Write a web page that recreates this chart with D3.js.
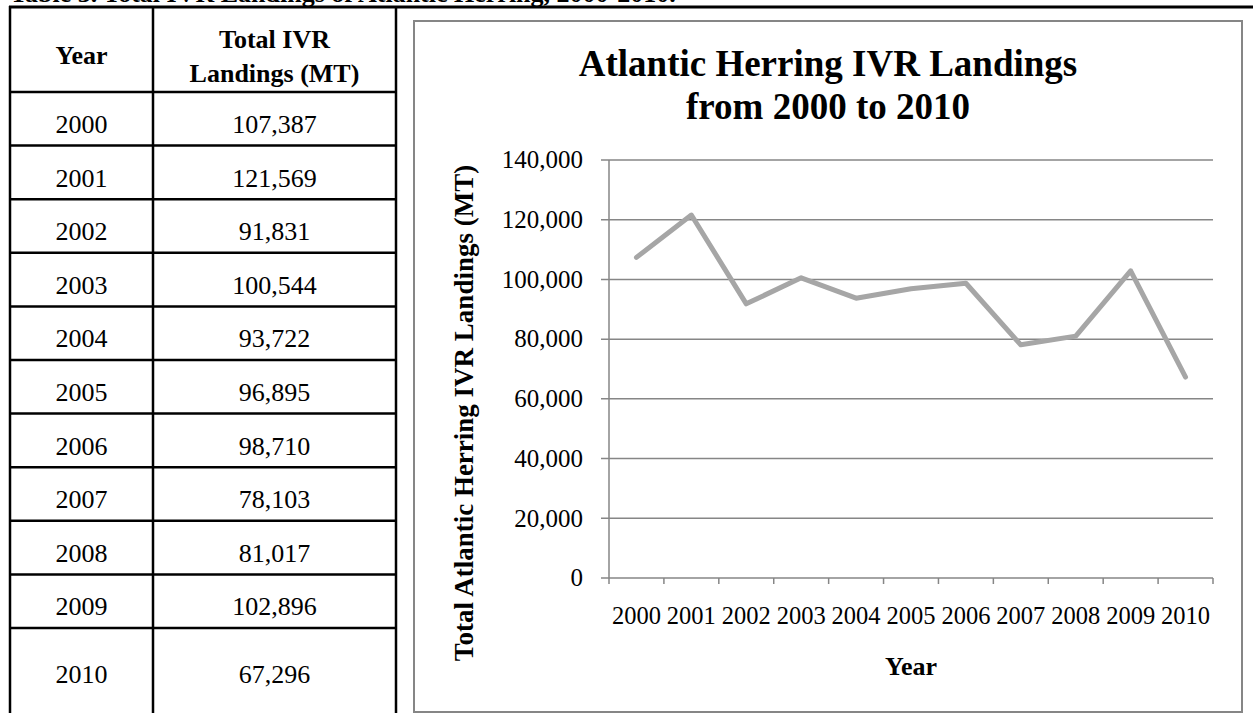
<!DOCTYPE html>
<html>
<head>
<meta charset="utf-8">
<script src="https://cdn.jsdelivr.net/npm/d3@7"></script>
<style>
    body { margin: 0; background: #fff; }
    svg { display: block; font-family: "Liberation Serif", "Times New Roman", serif; }
</style>
</head>
<body>
<div id="chart-area"></div>
<script>
const years = [2000, 2001, 2002, 2003, 2004, 2005, 2006, 2007, 2008, 2009, 2010];
const landings = [107387, 121569, 91831, 100544, 93722, 96895, 98710, 78103, 81017, 102896, 67296];
const yTicks = [0, 20000, 40000, 60000, 80000, 100000, 120000, 140000];
const tableHeader = ["Year", ["Total IVR", "Landings (MT)"]];
const caption = "Table 3. Total IVR Landings of Atlantic Herring, 2000-2010.";
const chartTitle = ["Atlantic Herring IVR Landings", "from 2000 to 2010"];
const yTitle = "Total Atlantic Herring IVR Landings (MT)";
const xTitle = "Year";

const data = years.map((y, i) => ({ year: y, value: landings[i] }));
const fmt = d3.format(",");

const svg = d3.select("#chart-area").append("svg")
    .attr("width", 1253)
    .attr("height", 713);

// caption is cut off by the page top, only the glyph bottoms show
svg.append("text")
    .attr("x", 10)
    .attr("y", 1.5)
    .attr("font-size", 26)
    .attr("font-weight", "bold")
    .text(caption);

drawTable(data, svg);
drawLineChart(data, svg);

function drawTable(data, svg) {
    const colX = [10, 153, 396];
    const headTop = 6, headBottom = 92, lastTop = 628;
    const g = svg.append("g");

    // rows 2000..2009 share one height, the last row is taller
    const row = d3.scaleBand()
        .domain(data.slice(0, -1).map(d => d.year))
        .range([headBottom, lastTop]);
    const rowTop = d => d.year === years[years.length - 1] ? lastTop : row(d.year);
    const baseline = d => d.year === years[years.length - 1] ? lastTop + 55 : row(d.year) + 41;

    const c1 = (colX[0] + colX[1]) / 2, c2 = (colX[1] + colX[2]) / 2;

    g.append("text")
        .attr("x", c1).attr("y", 64)
        .attr("text-anchor", "middle")
        .attr("font-size", 26).attr("font-weight", "bold")
        .text(tableHeader[0]);
    tableHeader[1].forEach((t, i) => {
        g.append("text")
            .attr("x", c2).attr("y", 48 + i * 34)
            .attr("text-anchor", "middle")
            .attr("font-size", 26).attr("font-weight", "bold")
            .text(t);
    });

    const rows = g.selectAll(".row").data(data).enter().append("g");
    rows.append("text")
        .attr("x", c1).attr("y", baseline)
        .attr("text-anchor", "middle").attr("font-size", 26)
        .text(d => d.year);
    rows.append("text")
        .attr("x", c2).attr("y", baseline)
        .attr("text-anchor", "middle").attr("font-size", 26)
        .text(d => fmt(d.value));

    // grid lines of the table
    g.selectAll(".hline").data(data).enter().append("line")
        .attr("x1", colX[0]).attr("x2", colX[2])
        .attr("y1", rowTop).attr("y2", rowTop)
        .attr("stroke", "#000").attr("stroke-width", 2.5);
    g.append("line")
        .attr("x1", colX[0] - 1).attr("x2", 1253)
        .attr("y1", headTop + 1).attr("y2", headTop + 1)
        .attr("stroke", "#000").attr("stroke-width", 3);
    g.selectAll(".vline").data(colX).enter().append("line")
        .attr("x1", d => d).attr("x2", d => d)
        .attr("y1", headTop).attr("y2", 713)
        .attr("stroke", "#000").attr("stroke-width", 2.5);
}

function drawLineChart(data, svg) {
    const box = { left: 414, top: 21, right: 1242, bottom: 712 };
    const plot = { left: 609, top: 160, right: 1213, bottom: 578 };
    const axisColor = "#868686";

    svg.append("rect")
        .attr("x", box.left).attr("y", box.top)
        .attr("width", box.right - box.left).attr("height", box.bottom - box.top)
        .attr("fill", "#fff").attr("stroke", axisColor).attr("stroke-width", 2);

    const x = d3.scaleBand()
        .domain(data.map(d => d.year))
        .range([plot.left, plot.right]);
    const y = d3.scaleLinear()
        .domain([0, 140000])
        .range([plot.bottom, plot.top]);

    const g = svg.append("g");

    // horizontal gridlines + outward ticks on the value axis
    g.selectAll(".grid").data(yTicks).enter().append("line")
        .attr("x1", plot.left - 8).attr("x2", plot.right)
        .attr("y1", d => y(d)).attr("y2", d => y(d))
        .attr("stroke", axisColor).attr("stroke-width", 1.5);
    g.selectAll(".ylab").data(yTicks).enter().append("text")
        .attr("x", plot.left - 26).attr("y", d => y(d))
        .attr("dy", "0.33em")
        .attr("text-anchor", "end").attr("font-size", 25)
        .text(d => fmt(d));

    g.append("line")
        .attr("x1", plot.left).attr("x2", plot.left)
        .attr("y1", plot.top).attr("y2", plot.bottom)
        .attr("stroke", axisColor).attr("stroke-width", 1.5);

    // category ticks sit between the years
    const bounds = data.map(d => x(d.year)).concat([x(data[data.length - 1].year) + x.step()]);
    g.selectAll(".xtick").data(bounds).enter().append("line")
        .attr("x1", d => d).attr("x2", d => d)
        .attr("y1", plot.bottom).attr("y2", plot.bottom + 6)
        .attr("stroke", axisColor).attr("stroke-width", 1.5);
    g.selectAll(".xlab").data(data).enter().append("text")
        .attr("x", d => x(d.year) + x.bandwidth() / 2)
        .attr("y", plot.bottom + 46)
        .attr("text-anchor", "middle").attr("font-size", 24.5)
        .text(d => d.year);

    const line = d3.line()
        .x(d => x(d.year) + x.bandwidth() / 2)
        .y(d => y(d.value));
    g.append("path")
        .datum(data)
        .attr("d", line)
        .attr("fill", "none")
        .attr("stroke", "#a6a6a6")
        .attr("stroke-width", 5)
        .attr("stroke-linejoin", "round")
        .attr("stroke-linecap", "round");

    const title = g.append("text")
        .attr("text-anchor", "middle")
        .attr("font-size", 37).attr("font-weight", "bold");
    chartTitle.forEach((t, i) => {
        title.append("tspan")
            .attr("x", (box.left + box.right) / 2)
            .attr("y", 76 + i * 43)
            .text(t);
    });

    g.append("text")
        .attr("x", (plot.left + plot.right) / 2).attr("y", 675)
        .attr("text-anchor", "middle")
        .attr("font-size", 26).attr("font-weight", "bold")
        .text(xTitle);

    g.append("text")
        .attr("transform", "translate(473, 413) rotate(-90)")
        .attr("text-anchor", "middle")
        .attr("font-size", 27).attr("font-weight", "bold")
        .text(yTitle);
}
</script>
</body>
</html>
